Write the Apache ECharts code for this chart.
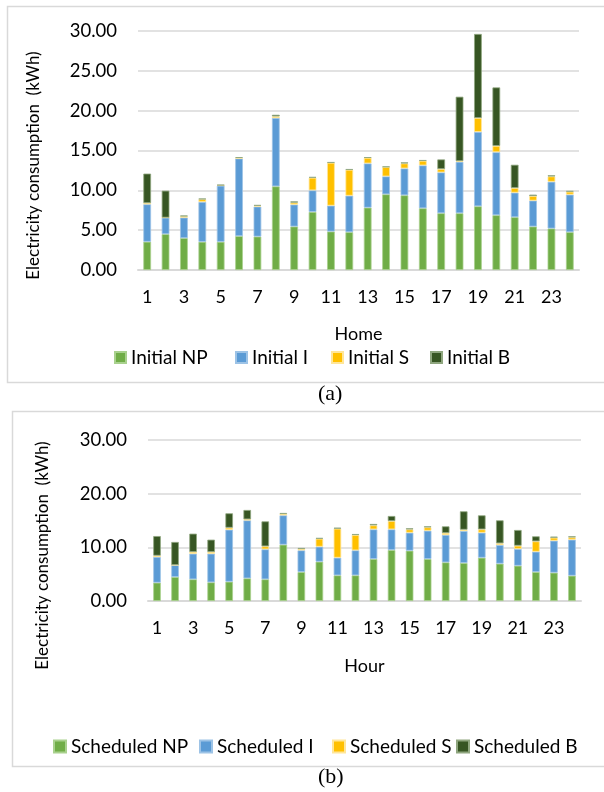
<!DOCTYPE html>
<html>
<head>
<meta charset="utf-8">
<script src="https://cdn.jsdelivr.net/npm/echarts@6/dist/echarts.min.js"></script>
<style>
html, body { margin: 0; padding: 0; background: #fff; }
#main { width: 604px; height: 792px; }
</style>
</head>
<body>
<div id="main"></div>
<script>
// categories (homes / hours)
var homes = [];
for (var i = 1; i <= 24; i++) homes.push(String(i));
var hours = homes.slice();

// (a) initial consumption, kWh
var initialNP = [3.55, 4.5, 4.0, 3.54, 3.54, 4.25, 4.2, 10.5, 5.46, 7.29, 4.83, 4.75, 7.83, 9.5, 9.38, 7.75, 7.13, 7.13, 8.0, 6.88, 6.63, 5.46, 5.21, 4.75];
var initialI = [4.7, 2.08, 2.58, 5.0, 7.04, 9.75, 3.76, 8.58, 2.75, 2.71, 3.25, 4.58, 5.55, 2.25, 3.37, 5.38, 5.12, 6.45, 9.33, 7.91, 3.08, 3.25, 5.87, 4.71];
var initialS = [0.15, 0, 0.17, 0.34, 0.05, 0.07, 0.1, 0.2, 0.25, 1.58, 5.38, 3.25, 0.7, 1.17, 0.63, 0.58, 0.42, 0.09, 1.75, 0.79, 0.58, 0.58, 0.67, 0.37];
var initialB = [3.7, 3.38, 0.08, 0.08, 0.07, 0.1, 0.1, 0.2, 0.15, 0.1, 0.08, 0.08, 0.08, 0.08, 0.12, 0.08, 1.21, 8.08, 10.55, 7.34, 2.92, 0.17, 0.13, 0.09];

// (b) scheduled consumption, kWh
var schedNP = [3.42, 4.47, 4.04, 3.48, 3.6, 4.22, 4.04, 10.5, 5.4, 7.33, 4.78, 4.78, 7.83, 9.5, 9.38, 7.83, 7.2, 7.08, 8.07, 6.96, 6.58, 5.4, 5.28, 4.72];
var schedI = [4.78, 2.24, 4.78, 5.34, 9.69, 10.81, 5.59, 5.46, 4.04, 2.79, 3.29, 4.66, 5.52, 3.85, 3.35, 5.27, 5.1, 5.96, 4.66, 3.47, 3.11, 3.79, 5.96, 6.71];
var schedS = [0.25, 0, 0.31, 0.31, 0.37, 0.19, 0.56, 0.25, 0.25, 1.49, 5.41, 2.86, 0.75, 1.55, 0.62, 0.63, 0.37, 0.25, 0.62, 0.32, 0.62, 1.93, 0.56, 0.43];
var schedB = [3.65, 4.29, 3.42, 2.3, 2.68, 1.74, 4.65, 0.19, 0.19, 0.13, 0.18, 0.18, 0.25, 0.94, 0.19, 0.18, 1.24, 3.42, 2.61, 4.28, 2.92, 0.93, 0.19, 0.19];

var seriesNamesA = ['Initial NP', 'Initial I', 'Initial S', 'Initial B'];
var seriesNamesB = ['Scheduled NP', 'Scheduled I', 'Scheduled S', 'Scheduled B'];
var colors = ['#70AD47', '#5B9BD5', '#FFC000', '#375623'];
var edges = ['#A9D18E', '#9DC3E6', '#FFE699', '#8FA67F'];

var font = 'Lato, "Open Sans", sans-serif';
var gridColor = '#D9D9D9';

var myChart = echarts.init(document.getElementById('main'));

function bar(name, data, idx, k) {
	return {
		name: name,
		type: 'bar',
		stack: 'g' + idx,
		xAxisIndex: idx,
		yAxisIndex: idx,
		barWidth: '42%',
		data: data,
		itemStyle: { color: colors[k], borderColor: edges[k], borderWidth: 0.8 }
	};
}

function xAx(idx, cats, name, gap) {
	return {
		type: 'category',
		gridIndex: idx,
		data: cats,
		name: name,
		nameLocation: 'middle',
		nameGap: gap,
		nameTextStyle: { fontFamily: font, fontSize: 18, color: '#000' },
		axisTick: { show: false },
		axisLine: { lineStyle: { color: gridColor, width: 2 } },
		axisLabel: { interval: 1, fontFamily: font, fontSize: 18, color: '#000', margin: 18 }
	};
}

// pad shifts the rotated title down along the axis
function yAx(idx, interval, gap, pad) {
	return {
		type: 'value',
		gridIndex: idx,
		min: 0,
		max: 30,
		interval: interval,
		name: 'Electricity consumption  (kWh)',
		nameLocation: 'middle',
		nameGap: gap,
		nameTextStyle: { fontFamily: font, fontSize: 17, color: '#000', padding: [0, pad, 0, 0] },
		axisLine: { show: false },
		axisTick: { show: false },
		splitLine: { lineStyle: { color: gridColor, width: 1.5 } },
		axisLabel: {
			fontFamily: font, fontSize: 18.5, color: '#000', margin: 21,
			formatter: function(v) { return v.toFixed(2); }
		}
	};
}

// one legend per entry so each sits where it does in the figure
function legendItem(name, x, y, size, fs) {
	return {
		data: [name], left: x, top: y, padding: 0,
		itemWidth: size, itemHeight: size, icon: 'rect',
		textStyle: { fontFamily: font, fontSize: fs, color: '#000' }
	};
}

var legendA = [114, 235, 331, 430];
var legendB = [53, 199, 332, 456];
var legends = [];
for (var k = 0; k < 4; k++) {
	legends.push(legendItem(seriesNamesA[k], legendA[k], 348, 11, 19));
	legends.push(legendItem(seriesNamesB[k], legendB[k], 737, 12, 19));
}

var option = {
	backgroundColor: '#fff',
	animation: false,
	color: colors,
	grid: [
		{ left: 138, right: 25, top: 31, height: 239 },
		{ left: 148, right: 23, top: 440, height: 161 }
	],
	xAxis: [xAx(0, homes, 'Home', 55), xAx(1, hours, 'Hour', 56)],
	yAxis: [yAx(0, 5, 96, 30), yAx(1, 10, 97, 70)],
	legend: legends,
	graphic: [
		{ type: 'rect', silent: true, z: -1, shape: { x: 7.5, y: 6.5, width: 600, height: 376 }, style: { fill: 'none', stroke: gridColor, lineWidth: 1.5 } },
		{ type: 'rect', silent: true, z: -1, shape: { x: 12.5, y: 411.5, width: 595, height: 355 }, style: { fill: 'none', stroke: gridColor, lineWidth: 1.5 } },
		{ type: 'text', left: 318, top: 383, style: { text: '(a)', font: '22px "Liberation Serif", "Times New Roman", serif', fill: '#000' } },
		{ type: 'text', left: 318, top: 766, style: { text: '(b)', font: '22px "Liberation Serif", "Times New Roman", serif', fill: '#000' } }
	],
	series: [
		bar(seriesNamesA[0], initialNP, 0, 0),
		bar(seriesNamesA[1], initialI, 0, 1),
		bar(seriesNamesA[2], initialS, 0, 2),
		bar(seriesNamesA[3], initialB, 0, 3),
		bar(seriesNamesB[0], schedNP, 1, 0),
		bar(seriesNamesB[1], schedI, 1, 1),
		bar(seriesNamesB[2], schedS, 1, 2),
		bar(seriesNamesB[3], schedB, 1, 3)
	]
};

myChart.setOption(option);
</script>
</body>
</html>
